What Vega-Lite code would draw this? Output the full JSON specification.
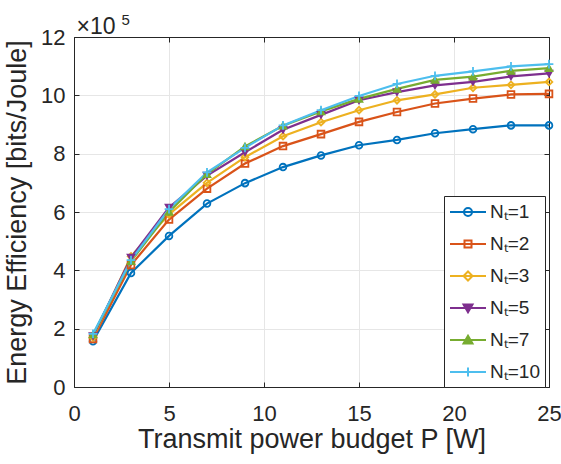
{
  "$schema": "https://vega.github.io/schema/vega-lite/v6.json",
  "width": 475,
  "height": 350,
  "autosize": {"type": "none"},
  "padding": {"left": 74, "top": 37, "right": 12, "bottom": 77},
  "background": "white",
  "config": {
    "view": {"stroke": "#262626", "strokeWidth": 1},
    "axis": {
      "labelFont": "Liberation Sans", "titleFont": "Liberation Sans",
      "labelFontSize": 22, "titleFontSize": 27, "titleFontWeight": "normal",
      "labelColor": "#262626", "titleColor": "#262626",
      "domainColor": "#262626", "tickColor": "#262626", "gridColor": "#e6e6e6",
      "tickSize": -5, "labelFlush": false
    }
  },
  "data": {"values": [
    {"p":1,"nt":1,"ee":157000},{"p":3,"nt":1,"ee":391000},{"p":5,"nt":1,"ee":518000},{"p":7,"nt":1,"ee":629000},{"p":9,"nt":1,"ee":699000},{"p":11,"nt":1,"ee":754000},{"p":13,"nt":1,"ee":794000},{"p":15,"nt":1,"ee":829000},{"p":17,"nt":1,"ee":847000},{"p":19,"nt":1,"ee":870000},{"p":21,"nt":1,"ee":884000},{"p":23,"nt":1,"ee":897000},{"p":25,"nt":1,"ee":897000},
    {"p":1,"nt":2,"ee":165000},{"p":3,"nt":2,"ee":418000},{"p":5,"nt":2,"ee":574000},{"p":7,"nt":2,"ee":680000},{"p":9,"nt":2,"ee":766000},{"p":11,"nt":2,"ee":826000},{"p":13,"nt":2,"ee":867000},{"p":15,"nt":2,"ee":909000},{"p":17,"nt":2,"ee":943000},{"p":19,"nt":2,"ee":972000},{"p":21,"nt":2,"ee":989000},{"p":23,"nt":2,"ee":1003000},{"p":25,"nt":2,"ee":1005000},
    {"p":1,"nt":3,"ee":170000},{"p":3,"nt":3,"ee":448000},{"p":5,"nt":3,"ee":592000},{"p":7,"nt":3,"ee":700000},{"p":9,"nt":3,"ee":788000},{"p":11,"nt":3,"ee":860000},{"p":13,"nt":3,"ee":908000},{"p":15,"nt":3,"ee":949000},{"p":17,"nt":3,"ee":983000},{"p":19,"nt":3,"ee":1003000},{"p":21,"nt":3,"ee":1026000},{"p":23,"nt":3,"ee":1036000},{"p":25,"nt":3,"ee":1046000},
    {"p":1,"nt":5,"ee":175000},{"p":3,"nt":5,"ee":444000},{"p":5,"nt":5,"ee":615000},{"p":7,"nt":5,"ee":725000},{"p":9,"nt":5,"ee":805000},{"p":11,"nt":5,"ee":882000},{"p":13,"nt":5,"ee":933000},{"p":15,"nt":5,"ee":983000},{"p":17,"nt":5,"ee":1011000},{"p":19,"nt":5,"ee":1034000},{"p":21,"nt":5,"ee":1046000},{"p":23,"nt":5,"ee":1065000},{"p":25,"nt":5,"ee":1075000},
    {"p":1,"nt":7,"ee":180000},{"p":3,"nt":7,"ee":431000},{"p":5,"nt":7,"ee":600000},{"p":7,"nt":7,"ee":730000},{"p":9,"nt":7,"ee":825000},{"p":11,"nt":7,"ee":896000},{"p":13,"nt":7,"ee":945000},{"p":15,"nt":7,"ee":988000},{"p":17,"nt":7,"ee":1022000},{"p":19,"nt":7,"ee":1053000},{"p":21,"nt":7,"ee":1064000},{"p":23,"nt":7,"ee":1084000},{"p":25,"nt":7,"ee":1093000},
    {"p":1,"nt":10,"ee":182000},{"p":3,"nt":10,"ee":435000},{"p":5,"nt":10,"ee":610000},{"p":7,"nt":10,"ee":736000},{"p":9,"nt":10,"ee":820000},{"p":11,"nt":10,"ee":897000},{"p":13,"nt":10,"ee":949000},{"p":15,"nt":10,"ee":998000},{"p":17,"nt":10,"ee":1039000},{"p":19,"nt":10,"ee":1067000},{"p":21,"nt":10,"ee":1082000},{"p":23,"nt":10,"ee":1099000},{"p":25,"nt":10,"ee":1107000}
  ]},
  "layer": [
    {
      "mark": {"type": "line", "strokeWidth": 2.2},
      "encoding": {
        "x": {"field": "p", "type": "quantitative", "scale": {"domain": [0, 25], "nice": false},
              "axis": {"values": [0,5,10,15,20,25], "title": "Transmit power budget P [W]", "labelPadding": 21, "titlePadding": 2, "grid": true}},
        "y": {"field": "ee", "type": "quantitative", "scale": {"domain": [0, 1200000], "nice": false},
              "axis": {"values": [0,200000,400000,600000,800000,1000000,1200000], "labelExpr": "datum.value/100000", "title": "Energy Efficiency [bits/Joule]", "labelPadding": 14, "titlePadding": 9, "grid": true}},
        "color": {"field": "nt", "type": "ordinal",
                  "scale": {"domain": [1,2,3,5,7,10], "range": ["#0072BD","#D95319","#EDB120","#7E2F8E","#77AC30","#4DBEEE"]},
                  "legend": {
                    "orient": "none", "legendX": 370, "legendY": 159, "title": null,
                    "labelExpr": "'Nₜ=' + datum.label + '   '",
                    "labelFont": "Liberation Sans", "labelFontSize": 19, "labelColor": "#262626",
                    "strokeColor": "#262626", "fillColor": "white", "padding": 5,
                    "symbolSize": 400, "symbolStrokeWidth": 2, "labelOffset": 19, "rowPadding": 11,
                    "encode": {"symbols": {"update": {
                      "shape": {"signal": "datum.value==1 ? 'M-1,0H2.6M1.2,0A0.4,0.4,0,1,1,0.4,0A0.4,0.4,0,1,1,1.2,0' : datum.value==2 ? 'M-1,0H2.6M0.45,-0.35H1.15V0.35H0.45Z' : datum.value==3 ? 'M-1,0H2.6M0.8,-0.45L1.25,0L0.8,0.45L0.35,0Z' : datum.value==5 ? 'M-1,0H2.6M0.35,-0.35H1.25L0.8,0.42Z' : datum.value==7 ? 'M-1,0H2.6M0.35,0.35H1.25L0.8,-0.42Z' : 'M-1,0H2.6M0.8,-0.45V0.45'"},
                      "fill": {"signal": "datum.value==5 ? '#7E2F8E' : datum.value==7 ? '#77AC30' : 'transparent'"},
                      "stroke": {"signal": "datum.value==1 ? '#0072BD' : datum.value==2 ? '#D95319' : datum.value==3 ? '#EDB120' : datum.value==5 ? '#7E2F8E' : datum.value==7 ? '#77AC30' : '#4DBEEE'"},
                      "strokeWidth": {"value": 2},
                      "opacity": {"value": 1}
                    }}}
                  }}
      }
    },
    {
      "mark": {"type": "point", "size": 45, "strokeWidth": 1.8, "opacity": 1},
      "encoding": {
        "x": {"field": "p", "type": "quantitative", "axis": {"orient": "top", "values": [0,5,10,15,20,25], "labels": false, "grid": false,
              "title": "5", "titleX": 47, "titleY": -13, "titleAlign": "left", "titleBaseline": "alphabetic", "titleFontSize": 15, "titleAngle": 0}},
        "y": {"field": "ee", "type": "quantitative", "axis": {"orient": "right", "values": [0,200000,400000,600000,800000,1000000,1200000], "labels": false, "grid": false,
              "title": "×10", "titleX": -473, "titleY": -4, "titleAlign": "left", "titleBaseline": "alphabetic", "titleFontSize": 23, "titleAngle": 0}},
        "stroke": {"field": "nt", "type": "ordinal", "scale": {"domain": [1,2,3,5,7,10,0], "range": ["#0072BD","#D95319","#EDB120","#7E2F8E","#77AC30","#4DBEEE","#000000"]}, "legend": null},
        "fill": {"field": "nt", "type": "ordinal", "scale": {"domain": [1,2,3,5,7,10,0], "range": ["transparent","transparent","transparent","#7E2F8E","#77AC30","transparent","transparent"]}, "legend": null},
        "shape": {"field": "nt", "type": "ordinal", "scale": {"domain": [1,2,3,5,7,10,0], "range": ["circle","square","diamond","triangle-down","triangle-up","M-1.3,0H1.3M0,-1.3V1.3","circle"]}, "legend": null}
      }
    }
  ],
  "resolve": {"axis": {"x": "independent", "y": "independent"}}
}
